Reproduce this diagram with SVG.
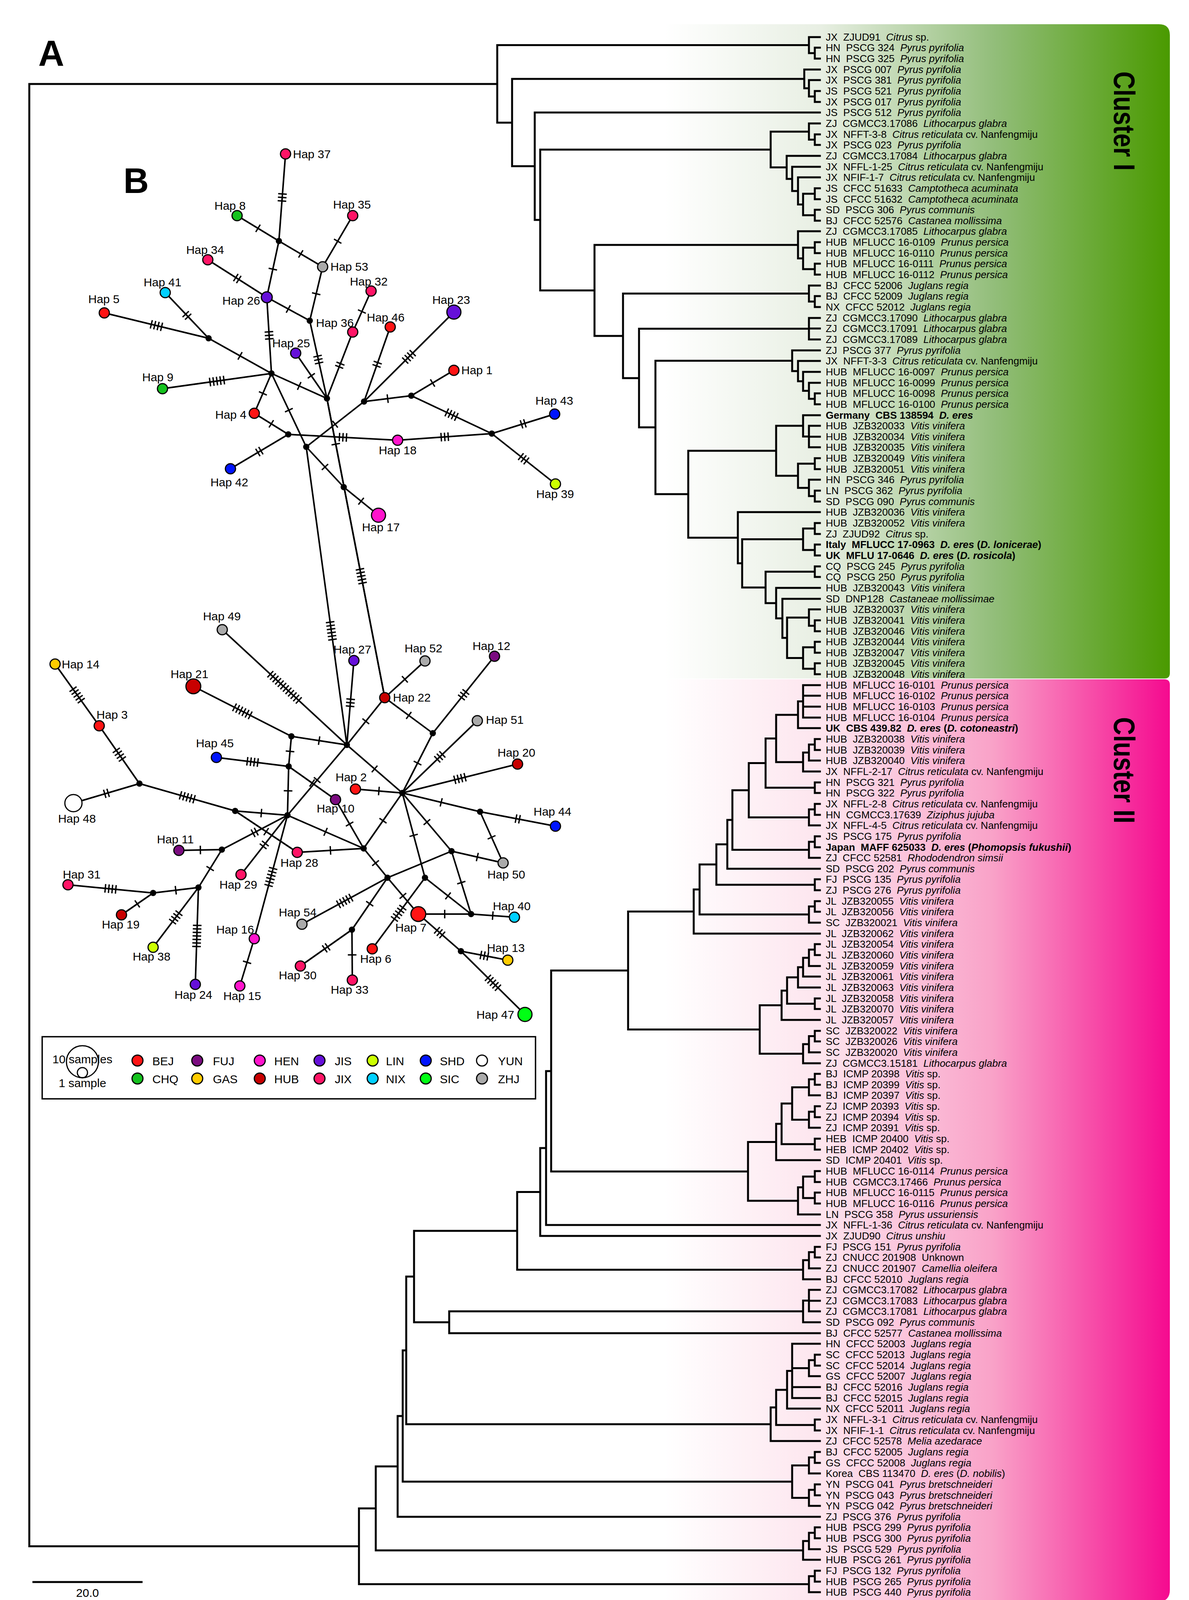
<svg xmlns="http://www.w3.org/2000/svg" width="3044" height="4183" viewBox="0 0 3044 4183">
<style>
text{font-family:"Liberation Sans",Arial,sans-serif;fill:#000}
.lf text{font-size:26px;white-space:pre}
.i{font-style:italic}
.b{font-weight:bold}
.tree{fill:none;stroke:#000;stroke-width:5;stroke-linecap:square}
.ne path{fill:none;stroke:#000;stroke-width:4}
.tk{stroke:#000;stroke-width:3.5;fill:none}
.mv{fill:#000}
.hp{stroke:#000;stroke-width:3}
.hl{font-size:30px}
.hm{font-size:30px;text-anchor:middle}
.he{font-size:30px;text-anchor:end}
.BEJ{fill:#ff1414}.FUJ{fill:#7b0c80}.HEN{fill:#ff14cc}.JIS{fill:#6610d9}.LIN{fill:#ccff00}.SHD{fill:#0014ff}.YUN{fill:#ffffff}
.CHQ{fill:#14c21e}.GAS{fill:#ffcc00}.HUB{fill:#c80000}.JIX{fill:#ff1466}.NIX{fill:#00d0ff}.SIC{fill:#00ff14}.ZHJ{fill:#aaaaaa}
</style>
<defs>
<linearGradient id="gI" gradientUnits="userSpaceOnUse" x1="1700" y1="0" x2="2995" y2="0">
<stop offset="0" stop-color="#ffffff"/><stop offset="0.31" stop-color="#e8efe3"/><stop offset="0.65" stop-color="#93be7b"/><stop offset="1" stop-color="#4a9a00"/>
</linearGradient>
<linearGradient id="gII" gradientUnits="userSpaceOnUse" x1="1700" y1="0" x2="2995" y2="0">
<stop offset="0" stop-color="#ffffff"/><stop offset="0.31" stop-color="#fde5ee"/><stop offset="0.65" stop-color="#f9a2c8"/><stop offset="1" stop-color="#f50a8f"/>
</linearGradient>
<marker id="h1" markerUnits="userSpaceOnUse" markerWidth="200" markerHeight="60" refX="100" refY="30" orient="auto"><path class="tk" d="M100 19V41"/></marker>
<marker id="h2" markerUnits="userSpaceOnUse" markerWidth="200" markerHeight="60" refX="100" refY="30" orient="auto"><path class="tk" d="M95.5 19V41M104.5 19V41"/></marker>
<marker id="h3" markerUnits="userSpaceOnUse" markerWidth="200" markerHeight="60" refX="100" refY="30" orient="auto"><path class="tk" d="M91 19V41M100 19V41M109 19V41"/></marker>
<marker id="h4" markerUnits="userSpaceOnUse" markerWidth="200" markerHeight="60" refX="100" refY="30" orient="auto"><path class="tk" d="M86.5 19V41M95.5 19V41M104.5 19V41M113.5 19V41"/></marker>
<marker id="h5" markerUnits="userSpaceOnUse" markerWidth="200" markerHeight="60" refX="100" refY="30" orient="auto"><path class="tk" d="M82 19V41M91 19V41M100 19V41M109 19V41M118 19V41"/></marker>
<marker id="h6" markerUnits="userSpaceOnUse" markerWidth="200" markerHeight="60" refX="100" refY="30" orient="auto"><path class="tk" d="M77.5 19V41M86.5 19V41M95.5 19V41M104.5 19V41M113.5 19V41M122.5 19V41"/></marker>
<marker id="h7" markerUnits="userSpaceOnUse" markerWidth="200" markerHeight="60" refX="100" refY="30" orient="auto"><path class="tk" d="M73 19V41M82 19V41M91 19V41M100 19V41M109 19V41M118 19V41M127 19V41"/></marker>
<marker id="h12" markerUnits="userSpaceOnUse" markerWidth="200" markerHeight="60" refX="100" refY="30" orient="auto"><path class="tk" d="M50.5 19V41M59.5 19V41M68.5 19V41M77.5 19V41M86.5 19V41M95.5 19V41M104.5 19V41M113.5 19V41M122.5 19V41M131.5 19V41M140.5 19V41M149.5 19V41"/></marker>
</defs>
<rect x="0" y="0" width="3044" height="4183" fill="#fff"/>
<g id="cluster-bands">
<path d="M1700 62H2967Q2995 62 2995 90V1723Q2995 1737 2981 1737H1700Z" fill="url(#gI)"/>
<path d="M1700 1739H2981Q2995 1739 2995 1753V4070Q2995 4100 2965 4100H1700Z" fill="url(#gII)"/>
<text transform="translate(2852,183) rotate(90)" font-size="76" font-weight="bold" textLength="254" lengthAdjust="spacingAndGlyphs">Cluster I</text>
<text transform="translate(2852,1836) rotate(90)" font-size="76" font-weight="bold" textLength="272" lengthAdjust="spacingAndGlyphs">Cluster II</text>
</g>
<text x="98" y="168" font-size="92" font-weight="bold">A</text>
<g id="tree-connectors">
<path class="tree" d="M2086 122V150M2086 122H2099M2086 150H2099M2071 95V136M2071 95H2099M2071 136H2086
M2086 233V261M2086 233H2099M2086 261H2099M2071 205V247M2071 205H2099M2071 247H2086M2059 178V226M2059 178H2099M2059 226H2071
M2086 344V371M2086 344H2099M2086 371H2099M2071 316V357.5M2071 316H2099M2071 357.5H2086
M2086 482V510M2086 482H2099M2086 510H2099M2086 537V565M2086 537H2099M2086 565H2099M2056 496V551M2056 496H2086M2056 551H2086
M2043 454V523.5M2043 454H2099M2043 523.5H2056M2028 427V489M2028 427H2099M2028 489H2043M2014 399V458M2014 399H2099M2014 458H2028
M1973 337V428.5M1973 337H2071M1973 428.5H2014
M2086 620V648M2086 620H2099M2086 648H2099M2086 675V703M2086 675H2099M2086 703H2099M2056 634V689M2056 634H2086M2056 689H2086
M2043 592V661.5M2043 592H2099M2043 661.5H2056
M2086 758V786M2086 758H2099M2086 786H2099M2071 731V772M2071 731H2099M2071 772H2086
M2071 814V869M2071 814H2099M2071 841H2099M2071 869H2099
M2086 1007V1035M2086 1007H2099M2086 1035H2099M2071 980V1021M2071 980H2099M2071 1021H2086M2056 952V1000.5M2056 952H2099M2056 1000.5H2071
M2043 924V976M2043 924H2099M2043 976H2056M2028 897V950M2028 897H2099M2028 950H2043
M2071 1090V1145M2071 1090H2099M2071 1118H2099M2071 1145H2099M2056 1063V1117.5M2056 1063H2099M2056 1117.5H2071
M2086 1173V1201M2086 1173H2099M2086 1201H2099M2086 1256V1284M2086 1256H2099M2086 1284H2099M2071 1228V1270M2071 1228H2099M2071 1270H2086
M2043 1187V1249M2043 1187H2086M2043 1249H2071M1987 1090V1218M1987 1090H2056M1987 1218H2043
M2086 1339V1367M2086 1339H2099M2086 1367H2099M2086 1394V1422M2086 1394H2099M2086 1422H2099M2056 1353V1408M2056 1353H2086M2056 1408H2086
M2086 1450V1477M2086 1450H2099M2086 1477H2099
M2086 1588V1616M2086 1588H2099M2086 1616H2099M2071 1560V1602M2071 1560H2099M2071 1602H2086
M2086 1643V1671M2086 1643H2099M2086 1671H2099M2086 1698V1726M2086 1698H2099M2086 1726H2099M2056 1657V1712M2056 1657H2086M2056 1712H2086
M2015 1581V1684.5M2015 1581H2071M2015 1684.5H2056M2003 1533V1633M2003 1533H2099M2003 1633H2015M1987 1505V1583M1987 1505H2099M1987 1583H2003
M1960 1463.5V1544M1960 1463.5H2086M1960 1544H1987M1900 1380.5V1504M1900 1380.5H2056M1900 1504H1960M1889 1311V1442M1889 1311H2099M1889 1442H1900
M1762 1154V1376.5M1762 1154H1987M1762 1376.5H1889M1678 923.5V1265M1678 923.5H2028M1678 1265H1762M1636 841.5V1094M1636 841.5H2071M1636 1094H1678
M1595 751.5V968M1595 751.5H2071M1595 968H1636M1522 627V860M1522 627H2043M1522 860H1595M1383 383V743.5M1383 383H1973M1383 743.5H1522
M1369 288V563M1369 288H2099M1369 563H1383M1311 202V425.5M1311 202H2059M1311 425.5H1369M1273 115.5V314M1273 115.5H2071M1273 314H1311
M75 215V3958.5M75 215H1273M75 3958.5H919
M2056 1754V1837M2056 1754H2099M2056 1781H2099M2056 1809H2099M2056 1837H2099M2043 1795.5V1864M2043 1795.5H2056M2043 1864H2099
M2086 1892V1920M2086 1892H2099M2086 1920H2099M2071 1906V1947M2071 1906H2086M2071 1947H2099M2056 1926.5V1975M2056 1926.5H2071M2056 1975H2099
M1987 1830V1951M1987 1830H2043M1987 1951H2056M2086 2003V2030M2086 2003H2099M2086 2030H2099M1960 1890.5V2016.5M1960 1890.5H1987M1960 2016.5H2086
M2086 2058V2086M2086 2058H2099M2086 2086H2099M2071 2072V2113M2071 2072H2086M2071 2113H2099M1917 1953.5V2092.5M1917 1953.5H1960M1917 2092.5H2071
M2086 2141V2169M2086 2141H2099M2086 2169H2099M2071 2155V2196M2071 2155H2086M2071 2196H2099M1875 2023V2175.5M1875 2023H1917M1875 2175.5H2071
M1862 2099V2224M1862 2099H1875M1862 2224H2099M2086 2251V2279M2086 2251H2099M2086 2279H2099M1834 2161.5V2265M1834 2161.5H1862M1834 2265H2086
M2086 2307V2334M2086 2307H2099M2086 2334H2099M2071 2320.5V2362M2071 2320.5H2086M2071 2362H2099M1791 2213V2341M1791 2213H1834M1791 2341H2071
M1776 2277V2390M1776 2277H1791M1776 2390H2099
M2086 2417V2445M2086 2417H2099M2086 2445H2099M2071 2431V2473M2071 2431H2086M2071 2473H2099M2056 2452V2500M2056 2452H2071M2056 2500H2099
M2043 2476V2528M2043 2476H2056M2043 2528H2099M2086 2556V2583M2086 2556H2099M2086 2583H2099M2015 2502V2569.5M2015 2502H2043M2015 2569.5H2086
M2001 2536V2611M2001 2536H2015M2001 2611H2099M2086 2639V2666M2086 2639H2099M2086 2666H2099M2071 2652.5V2694M2071 2652.5H2086M2071 2694H2099
M2056 2673V2722M2056 2673H2071M2056 2722H2099M1945 2573.5V2697.5M1945 2573.5H2001M1945 2697.5H2056M1608 2333.5V2635.5M1608 2333.5H1776M1608 2635.5H1945
M2086 2749V2777M2086 2749H2099M2086 2777H2099M2071 2763V2804M2071 2763H2086M2071 2804H2099M2086 2832V2860M2086 2832H2099M2086 2860H2099
M2071 2846V2887M2071 2846H2086M2071 2887H2099M2028 2783.5V2866.5M2028 2783.5H2071M2028 2866.5H2071M2086 2915V2943M2086 2915H2099M2086 2943H2099
M2001 2825V2929M2001 2825H2028M2001 2929H2086M1987 2877V2970M1987 2877H2001M1987 2970H2099
M2086 2998V3026M2086 2998H2099M2086 3026H2099M2086 3053V3081M2086 3053H2099M2086 3081H2099M2056 3012V3067M2056 3012H2086M2056 3067H2086
M2043 3039.5V3109M2043 3039.5H2056M2043 3109H2099M1915 2923.5V3074M1915 2923.5H1987M1915 3074H2043
M1411 2484.5V2999M1411 2484.5H1608M1411 2999H1915M1398 2742V3136M1398 2742H1411M1398 3136H2099M1383 2939V3164M1383 2939H1398M1383 3164H2099
M2086 3192V3219M2086 3192H2099M2086 3219H2099M2071 3205.5V3247M2071 3205.5H2086M2071 3247H2099M2056 3226V3275M2056 3226H2071M2056 3275H2099
M1324 3051.5V3250.5M1324 3051.5H1383M1324 3250.5H2056
M2071 3302V3357M2071 3302H2099M2071 3330H2099M2071 3357H2099M2056 3329.5V3385M2056 3329.5H2071M2056 3385H2099
M2086 3468V3496M2086 3468H2099M2086 3496H2099M2071 3482V3523M2071 3482H2086M2071 3523H2099
M2028 3440V3579M2028 3440H2099M2028 3502.5H2071M2028 3551H2099M2028 3579H2099M2015 3509.5V3606M2015 3509.5H2028M2015 3606H2099
M2086 3634V3662M2086 3634H2099M2086 3662H2099M1987 3558V3648M1987 3558H2015M1987 3648H2086M1973 3603V3689M1973 3603H1987M1973 3689H2099
M2086 3717V3745M2086 3717H2099M2086 3745H2099M2071 3731V3772M2071 3731H2086M2071 3772H2099M2086 3800V3828M2086 3800H2099M2086 3828H2099
M2071 3814V3855M2071 3814H2086M2071 3855H2099M2028 3751.5V3834.5M2028 3751.5H2071M2028 3834.5H2071
M2086 3910V3938M2086 3910H2099M2086 3938H2099M2071 3924V3966M2071 3924H2086M2071 3966H2099M2056 3945V3993M2056 3945H2071M2056 3993H2099
M2086 4021V4049M2086 4021H2099M2086 4049H2099M2071 4035V4076M2071 4035H2086M2071 4076H2099
M1150 3357V3413M1150 3357H2056M1150 3413H2099M1060 3151V3385M1060 3151H1324M1060 3385H1150
M1040 3268V3646M1040 3268H1060M1040 3646H1973M1031 3457V3793M1031 3457H1040M1031 3793H2028
M1018 3625V3883M1018 3625H1031M1018 3883H2099M962 3754V3969M962 3754H1018M962 3969H2056
M919 3861.5V4055.5M919 3861.5H962M919 4055.5H2071"/>
</g>
<g id="leaf-labels" class="lf" xml:space="preserve">
<text id="L1" x="2114" y="104">JX  ZJUD91  <tspan class="i">Citrus</tspan> sp.</text>
<text id="L2" x="2114" y="131">HN  PSCG 324  <tspan class="i">Pyrus pyrifolia</tspan></text>
<text id="L3" x="2114" y="159">HN  PSCG 325  <tspan class="i">Pyrus pyrifolia</tspan></text>
<text id="L4" x="2114" y="187">JX  PSCG 007  <tspan class="i">Pyrus pyrifolia</tspan></text>
<text id="L5" x="2114" y="214">JX  PSCG 381  <tspan class="i">Pyrus pyrifolia</tspan></text>
<text id="L6" x="2114" y="242">JS  PSCG 521  <tspan class="i">Pyrus pyrifolia</tspan></text>
<text id="L7" x="2114" y="270">JX  PSCG 017  <tspan class="i">Pyrus pyrifolia</tspan></text>
<text id="L8" x="2114" y="297">JS  PSCG 512  <tspan class="i">Pyrus pyrifolia</tspan></text>
<text id="L9" x="2114" y="325">ZJ  CGMCC3.17086  <tspan class="i">Lithocarpus glabra</tspan></text>
<text id="L10" x="2114" y="353">JX  NFFT-3-8  <tspan class="i">Citrus reticulata</tspan> cv. Nanfengmiju</text>
<text id="L11" x="2114" y="380">JX  PSCG 023  <tspan class="i">Pyrus pyrifolia</tspan></text>
<text id="L12" x="2114" y="408">ZJ  CGMCC3.17084  <tspan class="i">Lithocarpus glabra</tspan></text>
<text id="L13" x="2114" y="436">JX  NFFL-1-25  <tspan class="i">Citrus reticulata</tspan> cv. Nanfengmiju</text>
<text id="L14" x="2114" y="463">JX  NFIF-1-7  <tspan class="i">Citrus reticulata</tspan> cv. Nanfengmiju</text>
<text id="L15" x="2114" y="491">JS  CFCC 51633  <tspan class="i">Camptotheca acuminata</tspan></text>
<text id="L16" x="2114" y="519">JS  CFCC 51632  <tspan class="i">Camptotheca acuminata</tspan></text>
<text id="L17" x="2114" y="546">SD  PSCG 306  <tspan class="i">Pyrus communis</tspan></text>
<text id="L18" x="2114" y="574">BJ  CFCC 52576  <tspan class="i">Castanea mollissima</tspan></text>
<text id="L19" x="2114" y="601">ZJ  CGMCC3.17085  <tspan class="i">Lithocarpus glabra</tspan></text>
<text id="L20" x="2114" y="629">HUB  MFLUCC 16-0109  <tspan class="i">Prunus persica</tspan></text>
<text id="L21" x="2114" y="657">HUB  MFLUCC 16-0110  <tspan class="i">Prunus persica</tspan></text>
<text id="L22" x="2114" y="684">HUB  MFLUCC 16-0111  <tspan class="i">Prunus persica</tspan></text>
<text id="L23" x="2114" y="712">HUB  MFLUCC 16-0112  <tspan class="i">Prunus persica</tspan></text>
<text id="L24" x="2114" y="740">BJ  CFCC 52006  <tspan class="i">Juglans regia</tspan></text>
<text id="L25" x="2114" y="767">BJ  CFCC 52009  <tspan class="i">Juglans regia</tspan></text>
<text id="L26" x="2114" y="795">NX  CFCC 52012  <tspan class="i">Juglans regia</tspan></text>
<text id="L27" x="2114" y="823">ZJ  CGMCC3.17090  <tspan class="i">Lithocarpus glabra</tspan></text>
<text id="L28" x="2114" y="850">ZJ  CGMCC3.17091  <tspan class="i">Lithocarpus glabra</tspan></text>
<text id="L29" x="2114" y="878">ZJ  CGMCC3.17089  <tspan class="i">Lithocarpus glabra</tspan></text>
<text id="L30" x="2114" y="906">ZJ  PSCG 377  <tspan class="i">Pyrus pyrifolia</tspan></text>
<text id="L31" x="2114" y="933">JX  NFFT-3-3  <tspan class="i">Citrus reticulata</tspan> cv. Nanfengmiju</text>
<text id="L32" x="2114" y="961">HUB  MFLUCC 16-0097  <tspan class="i">Prunus persica</tspan></text>
<text id="L33" x="2114" y="989">HUB  MFLUCC 16-0099  <tspan class="i">Prunus persica</tspan></text>
<text id="L34" x="2114" y="1016">HUB  MFLUCC 16-0098  <tspan class="i">Prunus persica</tspan></text>
<text id="L35" x="2114" y="1044">HUB  MFLUCC 16-0100  <tspan class="i">Prunus persica</tspan></text>
<text id="L36" x="2114" y="1072" class="b">Germany  CBS 138594  <tspan class="i">D. eres</tspan></text>
<text id="L37" x="2114" y="1099">HUB  JZB320033  <tspan class="i">Vitis vinifera</tspan></text>
<text id="L38" x="2114" y="1127">HUB  JZB320034  <tspan class="i">Vitis vinifera</tspan></text>
<text id="L39" x="2114" y="1154">HUB  JZB320035  <tspan class="i">Vitis vinifera</tspan></text>
<text id="L40" x="2114" y="1182">HUB  JZB320049  <tspan class="i">Vitis vinifera</tspan></text>
<text id="L41" x="2114" y="1210">HUB  JZB320051  <tspan class="i">Vitis vinifera</tspan></text>
<text id="L42" x="2114" y="1237">HN  PSCG 346  <tspan class="i">Pyrus pyrifolia</tspan></text>
<text id="L43" x="2114" y="1265">LN  PSCG 362  <tspan class="i">Pyrus pyrifolia</tspan></text>
<text id="L44" x="2114" y="1293">SD  PSCG 090  <tspan class="i">Pyrus communis</tspan></text>
<text id="L45" x="2114" y="1320">HUB  JZB320036  <tspan class="i">Vitis vinifera</tspan></text>
<text id="L46" x="2114" y="1348">HUB  JZB320052  <tspan class="i">Vitis vinifera</tspan></text>
<text id="L47" x="2114" y="1376">ZJ  ZJUD92  <tspan class="i">Citrus</tspan> sp.</text>
<text id="L48" x="2114" y="1403" class="b">Italy  MFLUCC 17-0963  <tspan class="i">D. eres</tspan> (<tspan class="i">D. lonicerae</tspan>)</text>
<text id="L49" x="2114" y="1431" class="b">UK  MFLU 17-0646  <tspan class="i">D. eres</tspan> (<tspan class="i">D. rosicola</tspan>)</text>
<text id="L50" x="2114" y="1459">CQ  PSCG 245  <tspan class="i">Pyrus pyrifolia</tspan></text>
<text id="L51" x="2114" y="1486">CQ  PSCG 250  <tspan class="i">Pyrus pyrifolia</tspan></text>
<text id="L52" x="2114" y="1514">HUB  JZB320043  <tspan class="i">Vitis vinifera</tspan></text>
<text id="L53" x="2114" y="1542">SD  DNP128  <tspan class="i">Castaneae mollissimae</tspan></text>
<text id="L54" x="2114" y="1569">HUB  JZB320037  <tspan class="i">Vitis vinifera</tspan></text>
<text id="L55" x="2114" y="1597">HUB  JZB320041  <tspan class="i">Vitis vinifera</tspan></text>
<text id="L56" x="2114" y="1625">HUB  JZB320046  <tspan class="i">Vitis vinifera</tspan></text>
<text id="L57" x="2114" y="1652">HUB  JZB320044  <tspan class="i">Vitis vinifera</tspan></text>
<text id="L58" x="2114" y="1680">HUB  JZB320047  <tspan class="i">Vitis vinifera</tspan></text>
<text id="L59" x="2114" y="1707">HUB  JZB320045  <tspan class="i">Vitis vinifera</tspan></text>
<text id="L60" x="2114" y="1735">HUB  JZB320048  <tspan class="i">Vitis vinifera</tspan></text>
<text id="L61" x="2114" y="1763">HUB  MFLUCC 16-0101  <tspan class="i">Prunus persica</tspan></text>
<text id="L62" x="2114" y="1790">HUB  MFLUCC 16-0102  <tspan class="i">Prunus persica</tspan></text>
<text id="L63" x="2114" y="1818">HUB  MFLUCC 16-0103  <tspan class="i">Prunus persica</tspan></text>
<text id="L64" x="2114" y="1846">HUB  MFLUCC 16-0104  <tspan class="i">Prunus persica</tspan></text>
<text id="L65" x="2114" y="1873" class="b">UK  CBS 439.82  <tspan class="i">D. eres</tspan> (<tspan class="i">D. cotoneastri</tspan>)</text>
<text id="L66" x="2114" y="1901">HUB  JZB320038  <tspan class="i">Vitis vinifera</tspan></text>
<text id="L67" x="2114" y="1929">HUB  JZB320039  <tspan class="i">Vitis vinifera</tspan></text>
<text id="L68" x="2114" y="1956">HUB  JZB320040  <tspan class="i">Vitis vinifera</tspan></text>
<text id="L69" x="2114" y="1984">JX  NFFL-2-17  <tspan class="i">Citrus reticulata</tspan> cv. Nanfengmiju</text>
<text id="L70" x="2114" y="2012">HN  PSCG 321  <tspan class="i">Pyrus pyrifolia</tspan></text>
<text id="L71" x="2114" y="2039">HN  PSCG 322  <tspan class="i">Pyrus pyrifolia</tspan></text>
<text id="L72" x="2114" y="2067">JX  NFFL-2-8  <tspan class="i">Citrus reticulata</tspan> cv. Nanfengmiju</text>
<text id="L73" x="2114" y="2095">HN  CGMCC3.17639  <tspan class="i">Ziziphus jujuba</tspan></text>
<text id="L74" x="2114" y="2122">JX  NFFL-4-5  <tspan class="i">Citrus reticulata</tspan> cv. Nanfengmiju</text>
<text id="L75" x="2114" y="2150">JS  PSCG 175  <tspan class="i">Pyrus pyrifolia</tspan></text>
<text id="L76" x="2114" y="2178" class="b">Japan  MAFF 625033  <tspan class="i">D. eres</tspan> (<tspan class="i">Phomopsis fukushii</tspan>)</text>
<text id="L77" x="2114" y="2205">ZJ  CFCC 52581  <tspan class="i">Rhododendron simsii</tspan></text>
<text id="L78" x="2114" y="2233">SD  PSCG 202  <tspan class="i">Pyrus communis</tspan></text>
<text id="L79" x="2114" y="2260">FJ  PSCG 135  <tspan class="i">Pyrus pyrifolia</tspan></text>
<text id="L80" x="2114" y="2288">ZJ  PSCG 276  <tspan class="i">Pyrus pyrifolia</tspan></text>
<text id="L81" x="2114" y="2316">JL  JZB320055  <tspan class="i">Vitis vinifera</tspan></text>
<text id="L82" x="2114" y="2343">JL  JZB320056  <tspan class="i">Vitis vinifera</tspan></text>
<text id="L83" x="2114" y="2371">SC  JZB320021  <tspan class="i">Vitis vinifera</tspan></text>
<text id="L84" x="2114" y="2399">JL  JZB320062  <tspan class="i">Vitis vinifera</tspan></text>
<text id="L85" x="2114" y="2426">JL  JZB320054  <tspan class="i">Vitis vinifera</tspan></text>
<text id="L86" x="2114" y="2454">JL  JZB320060  <tspan class="i">Vitis vinifera</tspan></text>
<text id="L87" x="2114" y="2482">JL  JZB320059  <tspan class="i">Vitis vinifera</tspan></text>
<text id="L88" x="2114" y="2509">JL  JZB320061  <tspan class="i">Vitis vinifera</tspan></text>
<text id="L89" x="2114" y="2537">JL  JZB320063  <tspan class="i">Vitis vinifera</tspan></text>
<text id="L90" x="2114" y="2565">JL  JZB320058  <tspan class="i">Vitis vinifera</tspan></text>
<text id="L91" x="2114" y="2592">JL  JZB320070  <tspan class="i">Vitis vinifera</tspan></text>
<text id="L92" x="2114" y="2620">JL  JZB320057  <tspan class="i">Vitis vinifera</tspan></text>
<text id="L93" x="2114" y="2648">SC  JZB320022  <tspan class="i">Vitis vinifera</tspan></text>
<text id="L94" x="2114" y="2675">SC  JZB320026  <tspan class="i">Vitis vinifera</tspan></text>
<text id="L95" x="2114" y="2703">SC  JZB320020  <tspan class="i">Vitis vinifera</tspan></text>
<text id="L96" x="2114" y="2731">ZJ  CGMCC3.15181  <tspan class="i">Lithocarpus glabra</tspan></text>
<text id="L97" x="2114" y="2758">BJ  ICMP 20398  <tspan class="i">Vitis</tspan> sp.</text>
<text id="L98" x="2114" y="2786">BJ  ICMP 20399  <tspan class="i">Vitis</tspan> sp.</text>
<text id="L99" x="2114" y="2813">BJ  ICMP 20397  <tspan class="i">Vitis</tspan> sp.</text>
<text id="L100" x="2114" y="2841">ZJ  ICMP 20393  <tspan class="i">Vitis</tspan> sp.</text>
<text id="L101" x="2114" y="2869">ZJ  ICMP 20394  <tspan class="i">Vitis</tspan> sp.</text>
<text id="L102" x="2114" y="2896">ZJ  ICMP 20391  <tspan class="i">Vitis</tspan> sp.</text>
<text id="L103" x="2114" y="2924">HEB  ICMP 20400  <tspan class="i">Vitis</tspan> sp.</text>
<text id="L104" x="2114" y="2952">HEB  ICMP 20402  <tspan class="i">Vitis</tspan> sp.</text>
<text id="L105" x="2114" y="2979">SD  ICMP 20401  <tspan class="i">Vitis</tspan> sp.</text>
<text id="L106" x="2114" y="3007">HUB  MFLUCC 16-0114  <tspan class="i">Prunus persica</tspan></text>
<text id="L107" x="2114" y="3035">HUB  CGMCC3.17466  <tspan class="i">Prunus persica</tspan></text>
<text id="L108" x="2114" y="3062">HUB  MFLUCC 16-0115  <tspan class="i">Prunus persica</tspan></text>
<text id="L109" x="2114" y="3090">HUB  MFLUCC 16-0116  <tspan class="i">Prunus persica</tspan></text>
<text id="L110" x="2114" y="3118">LN  PSCG 358  <tspan class="i">Pyrus ussuriensis</tspan></text>
<text id="L111" x="2114" y="3145">JX  NFFL-1-36  <tspan class="i">Citrus reticulata</tspan> cv. Nanfengmiju</text>
<text id="L112" x="2114" y="3173">JX  ZJUD90  <tspan class="i">Citrus unshiu</tspan></text>
<text id="L113" x="2114" y="3201">FJ  PSCG 151  <tspan class="i">Pyrus pyrifolia</tspan></text>
<text id="L114" x="2114" y="3228">ZJ  CNUCC 201908  Unknown</text>
<text id="L115" x="2114" y="3256">ZJ  CNUCC 201907  <tspan class="i">Camellia oleifera</tspan></text>
<text id="L116" x="2114" y="3284">BJ  CFCC 52010  <tspan class="i">Juglans regia</tspan></text>
<text id="L117" x="2114" y="3311">ZJ  CGMCC3.17082  <tspan class="i">Lithocarpus glabra</tspan></text>
<text id="L118" x="2114" y="3339">ZJ  CGMCC3.17083  <tspan class="i">Lithocarpus glabra</tspan></text>
<text id="L119" x="2114" y="3366">ZJ  CGMCC3.17081  <tspan class="i">Lithocarpus glabra</tspan></text>
<text id="L120" x="2114" y="3394">SD  PSCG 092  <tspan class="i">Pyrus communis</tspan></text>
<text id="L121" x="2114" y="3422">BJ  CFCC 52577  <tspan class="i">Castanea mollissima</tspan></text>
<text id="L122" x="2114" y="3449">HN  CFCC 52003  <tspan class="i">Juglans regia</tspan></text>
<text id="L123" x="2114" y="3477">SC  CFCC 52013  <tspan class="i">Juglans regia</tspan></text>
<text id="L124" x="2114" y="3505">SC  CFCC 52014  <tspan class="i">Juglans regia</tspan></text>
<text id="L125" x="2114" y="3532">GS  CFCC 52007  <tspan class="i">Juglans regia</tspan></text>
<text id="L126" x="2114" y="3560">BJ  CFCC 52016  <tspan class="i">Juglans regia</tspan></text>
<text id="L127" x="2114" y="3588">BJ  CFCC 52015  <tspan class="i">Juglans regia</tspan></text>
<text id="L128" x="2114" y="3615">NX  CFCC 52011  <tspan class="i">Juglans regia</tspan></text>
<text id="L129" x="2114" y="3643">JX  NFFL-3-1  <tspan class="i">Citrus reticulata</tspan> cv. Nanfengmiju</text>
<text id="L130" x="2114" y="3671">JX  NFIF-1-1  <tspan class="i">Citrus reticulata</tspan> cv. Nanfengmiju</text>
<text id="L131" x="2114" y="3698">ZJ  CFCC 52578  <tspan class="i">Melia azedarace</tspan></text>
<text id="L132" x="2114" y="3726">BJ  CFCC 52005  <tspan class="i">Juglans regia</tspan></text>
<text id="L133" x="2114" y="3754">GS  CFCC 52008  <tspan class="i">Juglans regia</tspan></text>
<text id="L134" x="2114" y="3781">Korea  CBS 113470  <tspan class="i">D. eres</tspan> (<tspan class="i">D. nobilis</tspan>)</text>
<text id="L135" x="2114" y="3809">YN  PSCG 041  <tspan class="i">Pyrus bretschneideri</tspan></text>
<text id="L136" x="2114" y="3837">YN  PSCG 043  <tspan class="i">Pyrus bretschneideri</tspan></text>
<text id="L137" x="2114" y="3864">YN  PSCG 042  <tspan class="i">Pyrus bretschneideri</tspan></text>
<text id="L138" x="2114" y="3892">ZJ  PSCG 376  <tspan class="i">Pyrus pyrifolia</tspan></text>
<text id="L139" x="2114" y="3919">HUB  PSCG 299  <tspan class="i">Pyrus pyrifolia</tspan></text>
<text id="L140" x="2114" y="3947">HUB  PSCG 300  <tspan class="i">Pyrus pyrifolia</tspan></text>
<text id="L141" x="2114" y="3975">JS  PSCG 529  <tspan class="i">Pyrus pyrifolia</tspan></text>
<text id="L142" x="2114" y="4002">HUB  PSCG 261  <tspan class="i">Pyrus pyrifolia</tspan></text>
<text id="L143" x="2114" y="4030">FJ  PSCG 132  <tspan class="i">Pyrus pyrifolia</tspan></text>
<text id="L144" x="2114" y="4058">HUB  PSCG 265  <tspan class="i">Pyrus pyrifolia</tspan></text>
<text id="L145" x="2114" y="4085">HUB  PSCG 440  <tspan class="i">Pyrus pyrifolia</tspan></text>
</g>
<g id="scale-bar">
<path d="M83 4050H365" stroke="#000" stroke-width="5"/>
<text x="224" y="4088" font-size="30" text-anchor="middle">20.0</text>
</g>
<text x="316" y="494" font-size="90" font-weight="bold">B</text>
<g id="network-connectors" class="ne">
<path d="M731 394L722.5 505.5L714 617" marker-mid="url(#h3)"/>
<path d="M607 552L660.5 584.5L714 617" marker-mid="url(#h1)"/>
<path d="M714 617L770 650L826 683" marker-mid="url(#h1)"/>
<path d="M903 552L864.5 617.5L826 683" marker-mid="url(#h1)"/>
<path d="M714 617L698.5 689L683 761" marker-mid="url(#h1)"/>
<path d="M532 665L607.5 713L683 761" marker-mid="url(#h2)"/>
<path d="M683 761L738 791L793 821" marker-mid="url(#h1)"/>
<path d="M826 683L809.5 752L793 821" marker-mid="url(#h1)"/>
<path d="M683 761L689 858.5L695 956" marker-mid="url(#h3)"/>
<path d="M423 749L478.5 807.5L534 866" marker-mid="url(#h2)"/>
<path d="M267 801L400.5 833.5L534 866" marker-mid="url(#h4)"/>
<path d="M534 866L614.5 911L695 956" marker-mid="url(#h1)"/>
<path d="M416 995L555.5 975.5L695 956" marker-mid="url(#h5)"/>
<path d="M695 956L766 988L837 1020" marker-mid="url(#h1)"/>
<path d="M757 904L797 962L837 1020" marker-mid="url(#h1)"/>
<path d="M793 821L815 920.5L837 1020" marker-mid="url(#h3)"/>
<path d="M950 745L926.5 797.5L903 850" marker-mid="url(#h1)"/>
<path d="M903 850L870 935L837 1020" marker-mid="url(#h2)"/>
<path d="M999 837L965.5 932.5L932 1028" marker-mid="url(#h2)"/>
<path d="M1162 799L1047 913.5L932 1028" marker-mid="url(#h4)"/>
<path d="M932 1028L992.5 1020.5L1053 1013" marker-mid="url(#h1)"/>
<path d="M1053 1013L1107.5 980.5L1162 948" marker-mid="url(#h1)"/>
<path d="M1053 1013L1156 1061.5L1259 1110" marker-mid="url(#h4)"/>
<path d="M1259 1110L1339.5 1085L1420 1060" marker-mid="url(#h2)"/>
<path d="M1259 1110L1340.5 1174.5L1422 1239" marker-mid="url(#h3)"/>
<path d="M1259 1110L1138.5 1118.5L1018 1127" marker-mid="url(#h3)"/>
<path d="M1018 1127L878 1119.5L738 1112" marker-mid="url(#h3)"/>
<path d="M695 956L673 1007L651 1058" marker-mid="url(#h1)"/>
<path d="M651 1058L694.5 1085L738 1112" marker-mid="url(#h1)"/>
<path d="M738 1112L664 1156L590 1200" marker-mid="url(#h2)"/>
<path d="M932 1028L858 1086L784 1144" marker-mid="url(#h1)"/>
<path d="M695 956L739.5 1050L784 1144" marker-mid="url(#h1)"/>
<path d="M784 1144L832 1195.5L880 1247" marker-mid="url(#h1)"/>
<path d="M880 1247L924.5 1283L969 1319" marker-mid="url(#h1)"/>
<path d="M837 1020L859.6 1137L985 1786" marker-mid="url(#h1)"/>
<path d="M837 1020L924.9 1475L985 1786" marker-mid="url(#h5)"/>
<path d="M784 1144L848.2 1615L888 1907" marker-mid="url(#h6)"/>
<path d="M569 1612L728.5 1759.5L888 1907" marker-mid="url(#h12)"/>
<path d="M141 1700L197.5 1779L254 1858" marker-mid="url(#h5)"/>
<path d="M254 1858L305.5 1932L357 2006" marker-mid="url(#h4)"/>
<path d="M188 2056L272.5 2031L357 2006" marker-mid="url(#h2)"/>
<path d="M357 2006L479.5 2041L602 2076" marker-mid="url(#h5)"/>
<path d="M495 1757L620.5 1821L746 1885" marker-mid="url(#h6)"/>
<path d="M746 1885L817 1896L888 1907" marker-mid="url(#h1)"/>
<path d="M746 1885L742.5 1923.5L739 1962" marker-mid="url(#h1)"/>
<path d="M554 1939L646.5 1950.5L739 1962" marker-mid="url(#h4)"/>
<path d="M739 1962L737.5 2024.5L736 2087" marker-mid="url(#h1)"/>
<path d="M739 1962L799 2004.5L859 2047" marker-mid="url(#h1)"/>
<path d="M736 2087L812 1997L888 1907" marker-mid="url(#h1)"/>
<path d="M888 1907L897 1799L906 1691" marker-mid="url(#h3)"/>
<path d="M888 1907L936.5 1846.5L985 1786" marker-mid="url(#h1)"/>
<path d="M985 1786L1036.5 1739L1088 1692" marker-mid="url(#h1)"/>
<path d="M985 1786L1046.5 1831.5L1108 1877" marker-mid="url(#h1)"/>
<path d="M1266 1680L1187 1778.5L1108 1877" marker-mid="url(#h3)"/>
<path d="M1108 1877L1069 1953.5L1030 2030" marker-mid="url(#h1)"/>
<path d="M1222 1845L1126 1937.5L1030 2030" marker-mid="url(#h3)"/>
<path d="M1325 1956L1177.5 1993L1030 2030" marker-mid="url(#h4)"/>
<path d="M888 1907L959 1968.5L1030 2030" marker-mid="url(#h1)"/>
<path d="M910 2020L970 2025L1030 2030" marker-mid="url(#h1)"/>
<path d="M1030 2030L1129.5 2054L1229 2078" marker-mid="url(#h1)"/>
<path d="M1229 2078L1325.5 2096.5L1422 2115" marker-mid="url(#h2)"/>
<path d="M1229 2078L1258.5 2143.5L1288 2209" marker-mid="url(#h1)"/>
<path d="M1030 2030L1093 2104.5L1156 2179" marker-mid="url(#h1)"/>
<path d="M1156 2179L1222 2194L1288 2209" marker-mid="url(#h1)"/>
<path d="M1156 2179L1181 2259.5L1206 2340" marker-mid="url(#h1)"/>
<path d="M1030 2030L1059 2138.5L1088 2247" marker-mid="url(#h1)"/>
<path d="M1030 2030L980.5 2101L931 2172" marker-mid="url(#h1)"/>
<path d="M859 2047L895 2109.5L931 2172" marker-mid="url(#h1)"/>
<path d="M736 2087L833.5 2129.5L931 2172" marker-mid="url(#h1)"/>
<path d="M761 2182L846 2177L931 2172" marker-mid="url(#h1)"/>
<path d="M931 2172L961.5 2209.5L992 2247" marker-mid="url(#h1)"/>
<path d="M992 2247L1156 2179"/>
<path d="M992 2247L882.5 2306.5L773 2366" marker-mid="url(#h5)"/>
<path d="M992 2247L946.5 2313.5L901 2380" marker-mid="url(#h1)"/>
<path d="M901 2380L835 2426.5L769 2473" marker-mid="url(#h2)"/>
<path d="M901 2380L901.5 2444.5L902 2509" marker-mid="url(#h1)"/>
<path d="M992 2247L1031.5 2293.5L1071 2340" marker-mid="url(#h1)"/>
<path d="M1088 2247L1020.5 2338L953 2429" marker-mid="url(#h5)"/>
<path d="M1088 2247L1147 2293.5L1206 2340" marker-mid="url(#h1)"/>
<path d="M1071 2340L1138.5 2340L1206 2340" marker-mid="url(#h1)"/>
<path d="M1206 2340L1261.5 2344L1317 2348" marker-mid="url(#h1)"/>
<path d="M1071 2340L1125.5 2387.5L1180 2435" marker-mid="url(#h3)"/>
<path d="M1180 2435L1240 2446.5L1300 2458" marker-mid="url(#h3)"/>
<path d="M1180 2435L1262 2516L1344 2597" marker-mid="url(#h5)"/>
<path d="M736 2087L669 2081.5L602 2076" marker-mid="url(#h1)"/>
<path d="M602 2076L681.5 2129L761 2182" marker-mid="url(#h1)"/>
<path d="M736 2087L652 2131L568 2175" marker-mid="url(#h2)"/>
<path d="M568 2175L513 2176L458 2177" marker-mid="url(#h1)"/>
<path d="M568 2175L538 2223.5L508 2272" marker-mid="url(#h1)"/>
<path d="M736 2087L676.5 2163L617 2239" marker-mid="url(#h2)"/>
<path d="M736 2087L693.5 2245L651 2403" marker-mid="url(#h6)"/>
<path d="M651 2403L632.5 2463.5L614 2524" marker-mid="url(#h1)"/>
<path d="M508 2272L450 2279L392 2286" marker-mid="url(#h1)"/>
<path d="M392 2286L283 2275.5L174 2265" marker-mid="url(#h4)"/>
<path d="M392 2286L351.5 2314L311 2342" marker-mid="url(#h1)"/>
<path d="M508 2272L450 2348.5L392 2425" marker-mid="url(#h4)"/>
<path d="M508 2272L504 2396L500 2520" marker-mid="url(#h7)"/>
</g>
<g id="median-vectors" class="mv">
<circle cx="714" cy="617" r="8"/><circle cx="793" cy="821" r="8"/><circle cx="534" cy="866" r="8"/><circle cx="695" cy="956" r="8"/>
<circle cx="837" cy="1020" r="8"/><circle cx="932" cy="1028" r="8"/><circle cx="1053" cy="1013" r="8"/><circle cx="738" cy="1112" r="8"/>
<circle cx="784" cy="1144" r="8"/><circle cx="1259" cy="1110" r="8"/><circle cx="880" cy="1247" r="8"/>
<circle cx="746" cy="1885" r="8"/><circle cx="739" cy="1962" r="8"/><circle cx="357" cy="2006" r="8"/><circle cx="602" cy="2076" r="8"/>
<circle cx="736" cy="2087" r="8"/><circle cx="568" cy="2175" r="8"/><circle cx="392" cy="2286" r="8"/><circle cx="508" cy="2272" r="8"/>
<circle cx="1108" cy="1877" r="8"/><circle cx="888" cy="1907" r="8"/><circle cx="1030" cy="2030" r="8"/><circle cx="1229" cy="2078" r="8"/>
<circle cx="931" cy="2172" r="8"/><circle cx="1156" cy="2179" r="8"/><circle cx="992" cy="2247" r="8"/><circle cx="1088" cy="2247" r="8"/>
<circle cx="1206" cy="2340" r="8"/><circle cx="901" cy="2380" r="8"/><circle cx="1180" cy="2435" r="8"/>
</g>
<g id="haplotypes">
<g id="hap37"><circle class="hp JIX" cx="731" cy="394" r="13"/><text class="hl" x="750" y="405">Hap 37</text></g>
<g id="hap8"><circle class="hp CHQ" cx="607" cy="552" r="13"/><text class="hm" x="589" y="537">Hap 8</text></g>
<g id="hap35"><circle class="hp JIX" cx="903" cy="552" r="13"/><text class="hm" x="901" y="534">Hap 35</text></g>
<g id="hap53"><circle class="hp ZHJ" cx="826" cy="683" r="13"/><text class="hl" x="846" y="693">Hap 53</text></g>
<g id="hap34"><circle class="hp JIX" cx="532" cy="665" r="13"/><text class="hm" x="525" y="650">Hap 34</text></g>
<g id="hap41"><circle class="hp NIX" cx="423" cy="749" r="13"/><text class="hm" x="416" y="733">Hap 41</text></g>
<g id="hap26"><circle class="hp JIS" cx="683" cy="761" r="14"/><text class="he" x="666" y="780">Hap 26</text></g>
<g id="hap32"><circle class="hp JIX" cx="950" cy="745" r="13"/><text class="hm" x="944" y="731">Hap 32</text></g>
<g id="hap23"><circle class="hp JIS" cx="1162" cy="799" r="18"/><text class="hm" x="1155" y="778">Hap 23</text></g>
<g id="hap5"><circle class="hp BEJ" cx="267" cy="801" r="13"/><text class="hm" x="266" y="776">Hap 5</text></g>
<g id="hap36"><circle class="hp JIX" cx="903" cy="850" r="13"/><text class="hl" x="809" y="837">Hap 36</text></g>
<g id="hap46"><circle class="hp BEJ" cx="999" cy="837" r="13"/><text class="hl" x="939" y="823">Hap 46</text></g>
<g id="hap25"><circle class="hp JIS" cx="757" cy="904" r="13"/><text class="hl" x="697" y="889">Hap 25</text></g>
<g id="hap1"><circle class="hp BEJ" cx="1162" cy="948" r="13"/><text class="hl" x="1181" y="958">Hap 1</text></g>
<g id="hap9"><circle class="hp CHQ" cx="416" cy="995" r="13"/><text class="hm" x="404" y="976">Hap 9</text></g>
<g id="hap43"><circle class="hp SHD" cx="1420" cy="1060" r="13"/><text class="hm" x="1419" y="1036">Hap 43</text></g>
<g id="hap4"><circle class="hp BEJ" cx="651" cy="1058" r="13"/><text class="hl" x="551" y="1072">Hap 4</text></g>
<g id="hap18"><circle class="hp HEN" cx="1018" cy="1127" r="13"/><text class="hm" x="1018" y="1163">Hap 18</text></g>
<g id="hap42"><circle class="hp SHD" cx="590" cy="1200" r="13"/><text class="hm" x="587" y="1245">Hap 42</text></g>
<g id="hap39"><circle class="hp LIN" cx="1422" cy="1239" r="13"/><text class="hm" x="1421" y="1275">Hap 39</text></g>
<g id="hap17"><circle class="hp HEN" cx="969" cy="1319" r="18"/><text class="hm" x="975" y="1360">Hap 17</text></g>
<g id="hap49"><circle class="hp ZHJ" cx="569" cy="1612" r="13"/><text class="hm" x="568" y="1588">Hap 49</text></g>
<g id="hap14"><circle class="hp GAS" cx="141" cy="1700" r="13"/><text class="hl" x="158" y="1711">Hap 14</text></g>
<g id="hap21"><circle class="hp HUB" cx="495" cy="1757" r="19"/><text class="hm" x="485" y="1736">Hap 21</text></g>
<g id="hap3"><circle class="hp BEJ" cx="254" cy="1858" r="13"/><text class="hl" x="247" y="1840">Hap 3</text></g>
<g id="hap45"><circle class="hp SHD" cx="554" cy="1939" r="13"/><text class="hm" x="550" y="1913">Hap 45</text></g>
<g id="hap48"><circle class="hp YUN" cx="188" cy="2056" r="22"/><text class="hm" x="197" y="2106">Hap 48</text></g>
<g id="hap11"><circle class="hp FUJ" cx="458" cy="2177" r="13"/><text class="hm" x="449" y="2159">Hap 11</text></g>
<g id="hap29"><circle class="hp JIX" cx="617" cy="2239" r="13"/><text class="hm" x="610" y="2275">Hap 29</text></g>
<g id="hap28"><circle class="hp JIX" cx="761" cy="2182" r="13"/><text class="hl" x="718" y="2219">Hap 28</text></g>
<g id="hap31"><circle class="hp JIX" cx="174" cy="2265" r="13"/><text class="hm" x="209" y="2249">Hap 31</text></g>
<g id="hap19"><circle class="hp HUB" cx="311" cy="2342" r="13"/><text class="hm" x="309" y="2377">Hap 19</text></g>
<g id="hap38"><circle class="hp LIN" cx="392" cy="2425" r="13"/><text class="hm" x="388" y="2459">Hap 38</text></g>
<g id="hap24"><circle class="hp JIS" cx="500" cy="2520" r="13"/><text class="hm" x="495" y="2557">Hap 24</text></g>
<g id="hap16"><circle class="hp HEN" cx="651" cy="2403" r="13"/><text class="hm" x="602" y="2390">Hap 16</text></g>
<g id="hap15"><circle class="hp HEN" cx="614" cy="2524" r="13"/><text class="hm" x="620" y="2560">Hap 15</text></g>
<g id="hap54"><circle class="hp ZHJ" cx="773" cy="2366" r="13"/><text class="hm" x="762" y="2346">Hap 54</text></g>
<g id="hap30"><circle class="hp JIX" cx="769" cy="2473" r="13"/><text class="hm" x="762" y="2507">Hap 30</text></g>
<g id="hap27"><circle class="hp JIS" cx="906" cy="1691" r="13"/><text class="hm" x="902" y="1673">Hap 27</text></g>
<g id="hap52"><circle class="hp ZHJ" cx="1088" cy="1692" r="13"/><text class="hm" x="1084" y="1670">Hap 52</text></g>
<g id="hap12"><circle class="hp FUJ" cx="1266" cy="1680" r="13"/><text class="hm" x="1258" y="1664">Hap 12</text></g>
<g id="hap22"><circle class="hp HUB" cx="985" cy="1786" r="13"/><text class="hl" x="1006" y="1796">Hap 22</text></g>
<g id="hap51"><circle class="hp ZHJ" cx="1222" cy="1845" r="13"/><text class="hl" x="1244" y="1853">Hap 51</text></g>
<g id="hap20"><circle class="hp HUB" cx="1325" cy="1956" r="13"/><text class="hm" x="1322" y="1937">Hap 20</text></g>
<g id="hap2"><circle class="hp BEJ" cx="910" cy="2020" r="13"/><text class="hm" x="899" y="2000">Hap 2</text></g>
<g id="hap10"><circle class="hp FUJ" cx="859" cy="2047" r="13"/><text class="hm" x="859" y="2080">Hap 10</text></g>
<g id="hap44"><circle class="hp SHD" cx="1422" cy="2115" r="13"/><text class="hl" x="1366" y="2088">Hap 44</text></g>
<g id="hap50"><circle class="hp ZHJ" cx="1288" cy="2209" r="13"/><text class="hm" x="1296" y="2249">Hap 50</text></g>
<g id="hap7"><circle class="hp BEJ" cx="1071" cy="2340" r="19"/><text class="hm" x="1052" y="2385">Hap 7</text></g>
<g id="hap40"><circle class="hp NIX" cx="1317" cy="2348" r="13"/><text class="hm" x="1310" y="2330">Hap 40</text></g>
<g id="hap6"><circle class="hp BEJ" cx="953" cy="2429" r="13"/><text class="hm" x="962" y="2465">Hap 6</text></g>
<g id="hap13"><circle class="hp GAS" cx="1300" cy="2458" r="13"/><text class="hm" x="1295" y="2437">Hap 13</text></g>
<g id="hap33"><circle class="hp JIX" cx="902" cy="2509" r="13"/><text class="hm" x="895" y="2544">Hap 33</text></g>
<g id="hap47"><circle class="hp SIC" cx="1344" cy="2597" r="18"/><text class="hm" x="1268" y="2608">Hap 47</text></g>
</g>
<g id="legend">
<rect x="108" y="2654" width="1263" height="159" fill="none" stroke="#000" stroke-width="3.5"/>
<circle cx="211" cy="2718" r="41" fill="none" stroke="#000" stroke-width="3"/>
<circle cx="211" cy="2746" r="13" fill="none" stroke="#000" stroke-width="3"/>
<text x="211" y="2722" font-size="30" text-anchor="middle">10 samples</text>
<text x="211" y="2783" font-size="30" text-anchor="middle">1 sample</text>
<g font-size="30">
<circle class="hp BEJ" cx="352" cy="2715" r="14"/><text x="390" y="2727">BEJ</text>
<circle class="hp FUJ" cx="505" cy="2715" r="14"/><text x="545" y="2727">FUJ</text>
<circle class="hp HEN" cx="665" cy="2715" r="14"/><text x="702" y="2727">HEN</text>
<circle class="hp JIS" cx="818" cy="2715" r="14"/><text x="857" y="2727">JIS</text>
<circle class="hp LIN" cx="954" cy="2715" r="14"/><text x="988" y="2727">LIN</text>
<circle class="hp SHD" cx="1090" cy="2715" r="14"/><text x="1126" y="2727">SHD</text>
<circle class="hp YUN" cx="1234" cy="2715" r="14"/><text x="1275" y="2727">YUN</text>
<circle class="hp CHQ" cx="352" cy="2761" r="14"/><text x="390" y="2773">CHQ</text>
<circle class="hp GAS" cx="505" cy="2761" r="14"/><text x="545" y="2773">GAS</text>
<circle class="hp HUB" cx="665" cy="2761" r="14"/><text x="702" y="2773">HUB</text>
<circle class="hp JIX" cx="818" cy="2761" r="14"/><text x="857" y="2773">JIX</text>
<circle class="hp NIX" cx="954" cy="2761" r="14"/><text x="988" y="2773">NIX</text>
<circle class="hp SIC" cx="1090" cy="2761" r="14"/><text x="1126" y="2773">SIC</text>
<circle class="hp ZHJ" cx="1234" cy="2761" r="14"/><text x="1275" y="2773">ZHJ</text>
</g>
</g>
</svg>
